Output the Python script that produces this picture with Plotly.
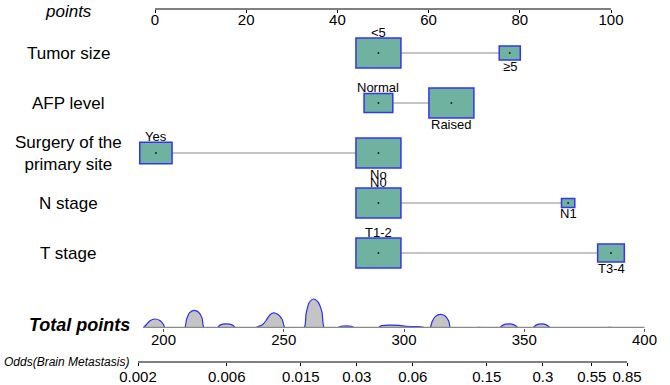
import plotly.graph_objects as go
import math

# ---------------- data ----------------
variables = ["Tumor size", "AFP level", "Surgery of the<br>primary site", "N stage", "T stage"]
levels = [["<5", "≥5"], ["Normal", "Raised"], ["Yes", "No"], ["N0", "N1"], ["T1-2", "T3-4"]]
level_points = [[49, 77.8], [49, 65.0], [0.2, 49], [49, 90.6], [49, 100]]
level_freq = [[0.82, 0.18], [0.29, 0.71], [0.34, 0.66], [0.92, 0.08], [0.74, 0.26]]

point_ticks = [0, 20, 40, 60, 80, 100]
total_ticks = [200, 250, 300, 350, 400]
odds_ticks = [0.002, 0.006, 0.015, 0.03, 0.06, 0.15, 0.3, 0.55, 0.85]
odds_labels = ["0.002", "0.006", "0.015", "0.03", "0.06", "0.15", "0.3", "0.55", "0.85"]

density_x = [191.6, 192.9, 194.4, 196.4, 198.5, 200.0, 200.6,
             208.7, 209.6, 210.8, 212.7, 214.5, 216.0, 216.9,
             222.2, 223.5, 226.0, 228.7, 230.2,
             238.1, 239.6, 241.1, 242.6, 244.2, 245.7, 247.5, 249.3, 250.6,
             258.4, 259.3, 260.6, 262.4, 264.2, 265.9, 266.9,
             272.2, 273.8, 276.0, 278.1, 279.8,
             288.9, 290.7, 293.8, 297.9, 300.9, 304.0, 307.1, 309.0,
             310.8, 311.7, 313.1, 315.1, 317.0, 318.6, 319.4,
             329.3, 331.2, 333.1,
             339.5, 341.1, 343.7, 346.0, 347.8,
             353.4, 354.9, 357.2, 359.4, 361.0,
             382.9, 385.8, 388.7]
density_y = [0, 0.12, 0.25, 0.31, 0.26, 0.12, 0,
             0, 0.30, 0.52, 0.61, 0.55, 0.35, 0,
             0, 0.10, 0.14, 0.10, 0,
             0, 0.06, 0.11, 0.25, 0.45, 0.52, 0.47, 0.30, 0,
             0, 0.50, 0.88, 1.00, 0.90, 0.55, 0,
             0, 0.06, 0.07, 0.06, 0,
             0, 0.08, 0.10, 0.09, 0.06, 0.05, 0.04, 0,
             0, 0.22, 0.40, 0.47, 0.42, 0.24, 0,
             0, 0.02, 0,
             0, 0.10, 0.14, 0.10, 0,
             0, 0.10, 0.14, 0.10, 0,
             0, 0.02, 0]

# ---------------- layout geometry ----------------
W, H = 670, 385
FONT = "Liberation Sans, Arial, sans-serif"
PX_PER_PT = 4.56          # points axis scale
PT0_PX = 155              # pixel of 0 points
TP_PX_PER = 2.405         # total points scale
TP200_PX = 163.5
ODDS_LO_PX, ODDS_HI_PX = 138, 627
ROW0_PX, ROW_STEP = 53, 50

def paper_y(px):
    return 1 - px / H

x1_range = [-PT0_PX / PX_PER_PT, 100 + (W - PT0_PX - 100 * PX_PER_PT) / PX_PER_PT]
x2_range = [200 - TP200_PX / TP_PX_PER, 200 + (W - TP200_PX) / TP_PX_PER]
lpd = (ODDS_HI_PX - ODDS_LO_PX) / (math.log10(odds_ticks[-1]) - math.log10(odds_ticks[0]))
x3_range = [math.log10(odds_ticks[0]) - ODDS_LO_PX / lpd,
            math.log10(odds_ticks[-1]) + (W - ODDS_HI_PX) / lpd]
y1_range = [(H - ROW0_PX) / ROW_STEP, -ROW0_PX / ROW_STEP]

BOX_W_PX, BOX_H_PX = 45, 30
BOX_FILL = "#6fb2a0"
BOX_LINE = "#3535f0"

fig = go.Figure()
shapes = []
annotations = []

for i, (var, levs, pts, fr) in enumerate(zip(variables, levels, level_points, level_freq)):
    # connector line
    shapes.append(dict(type="line", xref="x", yref="y", layer="below",
                       x0=min(pts), x1=max(pts), y0=i, y1=i,
                       line=dict(color="#8c8c8c", width=1.2)))
    fmax = max(fr)
    for j, (lab, p, f) in enumerate(zip(levs, pts, fr)):
        s = math.sqrt(f / fmax)
        wpt = BOX_W_PX * s / PX_PER_PT / 2
        hpx = BOX_H_PX * s
        hrow = hpx / ROW_STEP / 2
        shapes.append(dict(type="rect", xref="x", yref="y", layer="below",
                           x0=p - wpt, x1=p + wpt, y0=i - hrow, y1=i + hrow,
                           fillcolor=BOX_FILL, line=dict(color=BOX_LINE, width=1.5)))
        if j == 0:
            annotations.append(dict(x=p, y=i, xref="x", yref="y", text=lab, showarrow=False,
                                    xanchor="center", yanchor="bottom", yshift=hpx / 2 - 4,
                                    font=dict(family=FONT, size=13, color="black")))
        else:
            annotations.append(dict(x=p, y=i, xref="x", yref="y", text=lab, showarrow=False,
                                    xanchor="center", yanchor="top", yshift=-hpx / 2 + 3,
                                    font=dict(family=FONT, size=13, color="black")))
    fig.add_trace(go.Scatter(x=pts, y=[i] * len(pts), mode="markers",
                             marker=dict(size=2, color="#222"), hoverinfo="skip",
                             showlegend=False, xaxis="x", yaxis="y"))
    annotations.append(dict(x=68 / W, y=i, xref="paper", yref="y", text=var, showarrow=False,
                            xanchor="center", yanchor="middle",
                            font=dict(family=FONT, size=17, color="black")))

# density of total points
fig.add_trace(go.Scatter(x=density_x, y=density_y, mode="lines", fill="tozeroy",
                         fillcolor="#c4c4c4", line=dict(color="#2b2bf5", width=1.2, shape="spline", smoothing=0.7),
                         hoverinfo="skip", showlegend=False, xaxis="x2", yaxis="y2"))
# total points axis line
fig.add_trace(go.Scatter(x=[density_x[0], total_ticks[-1]], y=[0, 0], mode="lines",
                         line=dict(color="#8a8a8a", width=2.5), hoverinfo="skip",
                         showlegend=False, xaxis="x2", yaxis="y2"))
# odds axis carrier (invisible)
fig.add_trace(go.Scatter(x=odds_ticks, y=[0] * len(odds_ticks), mode="markers",
                         marker=dict(opacity=0), hoverinfo="skip", showlegend=False,
                         xaxis="x3", yaxis="y3"))

# axis lines for points and odds
shapes.append(dict(type="line", xref="x", yref="paper", x0=point_ticks[0], x1=point_ticks[-1],
                   y0=paper_y(9), y1=paper_y(9), line=dict(color="black", width=1)))
shapes.append(dict(type="line", xref="x3", yref="paper", x0=odds_ticks[0], x1=odds_ticks[-1],
                   y0=paper_y(362), y1=paper_y(362), line=dict(color="black", width=1)))

annotations.append(dict(x=68 / W, y=paper_y(11), xref="paper", yref="paper", text="<i>points</i>",
                        showarrow=False, xanchor="center", yanchor="middle",
                        font=dict(family=FONT, size=17, color="black")))
annotations.append(dict(x=79 / W, y=paper_y(325), xref="paper", yref="paper", text="<b><i>Total points</i></b>",
                        showarrow=False, xanchor="center", yanchor="middle",
                        font=dict(family=FONT, size=18, color="black")))
annotations.append(dict(x=2 / W, y=paper_y(362), xref="paper", yref="paper", text="<i>Odds(Brain Metastasis)</i>",
                        showarrow=False, xanchor="left", yanchor="middle",
                        font=dict(family=FONT, size=12, color="black")))

tickfont = dict(family=FONT, size=15, color="black")
fig.update_layout(
    width=W, height=H, margin=dict(l=0, r=0, t=0, b=0),
    paper_bgcolor="white", plot_bgcolor="rgba(0,0,0,0)",
    xaxis=dict(domain=[0, 1], range=x1_range, anchor="free", position=paper_y(9),
               tickvals=point_ticks, ticks="outside", ticklen=3, tickcolor="black",
               ticklabelstandoff=-6,
               showline=False, showgrid=False, zeroline=False, tickfont=tickfont),
    xaxis2=dict(domain=[0, 1], range=x2_range, anchor="free", position=paper_y(328),
                tickvals=total_ticks, ticks="outside", ticklen=3, tickcolor="#555",
                ticklabelstandoff=-5,
                showline=False, showgrid=False, zeroline=False, tickfont=tickfont),
    xaxis3=dict(domain=[0, 1], type="log", range=x3_range, anchor="free", position=paper_y(362),
                tickvals=odds_ticks, ticktext=odds_labels, ticks="outside", ticklen=3, tickcolor="black",
                ticklabelstandoff=-2,
                showline=False, showgrid=False, zeroline=False, tickfont=tickfont),
    yaxis=dict(domain=[0, 1], range=y1_range, visible=False),
    yaxis2=dict(domain=[paper_y(328), paper_y(288)], range=[0, 40 / 29], visible=False),
    yaxis3=dict(domain=[0, 1], range=[-1, 1], visible=False),
    shapes=shapes, annotations=annotations,
)

fig.write_html("out.html", config={"displayModeBar": False},
               post_script="document.body.style.margin='0';document.body.style.overflow='hidden';")
